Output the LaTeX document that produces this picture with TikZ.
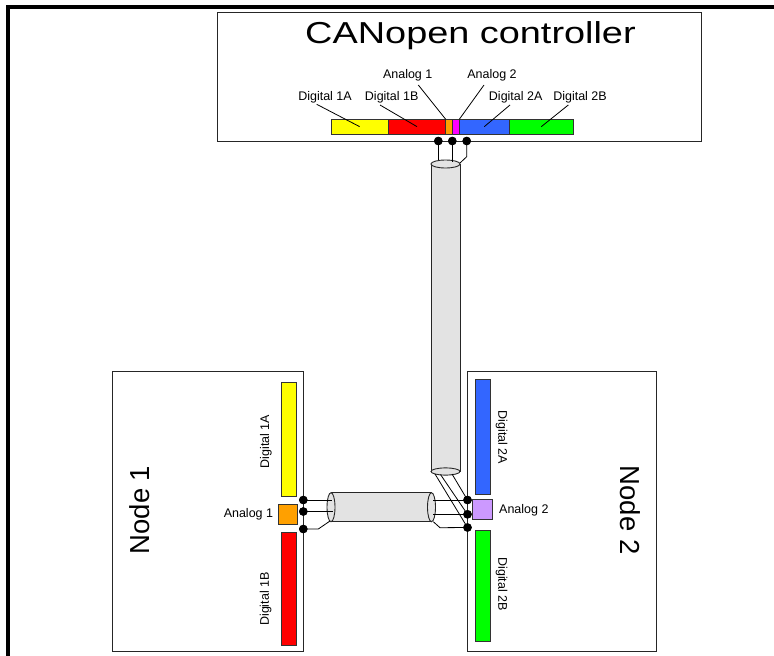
\documentclass[tikz,border=0pt]{standalone}
\usepackage{fontspec}
\setmainfont{Liberation Sans}
\usetikzlibrary{calc}
\definecolor{cablegray}{HTML}{E3E3E3}
\definecolor{cyel}{HTML}{FFFF00}
\definecolor{cred}{HTML}{FF0000}
\definecolor{corg}{HTML}{FFA000}
\definecolor{cmag}{HTML}{FF00FF}
\definecolor{cblue}{HTML}{3366FF}
\definecolor{cgrn}{HTML}{00FF00}
\definecolor{clav}{HTML}{CC99FF}
\begin{document}
\begin{tikzpicture}[x=1pt,y=-1pt,
  box/.style={draw=black!85, line width=0.9pt, inner sep=0pt, outer sep=0pt, anchor=north west},
  bar/.style={draw=black!80, line width=0.8pt, inner sep=0pt, outer sep=0pt, anchor=north west},
  dot/.style={circle, fill=black, inner sep=0pt, minimum size=8.5pt},
  lbl/.style={font=\fontsize{12.5}{14}\selectfont, inner sep=0pt},
  big/.style={font=\fontsize{27.5}{32}\selectfont, inner sep=0pt},
  wire/.style={line width=0.8pt, black},
  cab/.style={line width=0.9pt, draw=black!85, fill=cablegray}
]
\useasboundingbox (0,0) rectangle (774,656);
% outer frame
\draw[line width=4pt, line join=miter] (8,660) -- (8,7) -- (778,7);

% boxes
\node[box, minimum width=484pt, minimum height=129pt] (ctrl) at (217,12) {};
\node[box, minimum width=191.3pt, minimum height=280pt] (node1) at (112,371) {};
\node[box, minimum width=189pt, minimum height=280pt] (node2) at (467.5,371) {};

% title texts
\node[inner sep=0pt, font=\fontsize{30.3}{34}\selectfont] (title) at (470.5,36) {\scalebox{1.25}[1]{CANopen controller}};
\node[big, rotate=90] (n1txt) at (140,510) {Node 1};
\node[big, rotate=-90] (n2txt) at (630,510) {Node 2};

% controller connector bar
\node[bar, fill=cyel, minimum width=57.3pt, minimum height=14.7pt] (c1a) at (331,119.3) {};
\node[bar, fill=cred, minimum width=57.4pt, minimum height=14.7pt] (c1b) at (388.3,119.3) {};
\node[bar, fill=corg, minimum width=6.6pt, minimum height=14.7pt] (ca1) at (445.7,119.3) {};
\node[bar, fill=cmag, minimum width=7pt, minimum height=14.7pt] (ca2) at (452.3,119.3) {};
\node[bar, fill=cblue, minimum width=50pt, minimum height=14.7pt] (c2a) at (459.3,119.3) {};
\node[bar, fill=cgrn, minimum width=64pt, minimum height=14.7pt] (c2b) at (509.3,119.3) {};

% controller labels
\node[lbl] (l1a) at (325,97.7) {Digital 1A};
\node[lbl] (l1b) at (391.7,97.7) {Digital 1B};
\node[lbl] (la1) at (407.7,75) {Analog 1};
\node[lbl] (la2) at (492,75) {Analog 2};
\node[lbl] (l2a) at (515.7,97.7) {Digital 2A};
\node[lbl] (l2b) at (580,97.7) {Digital 2B};
\draw[wire] ($(l1a.center)+(-8.3,6.6)$) -- (c1a.center);
\draw[wire] ($(l1b.center)+(-11.7,7.3)$) -- (c1b.center);
\draw[wire] ($(la1.center)+(10.6,10)$) -- (ca1.north west);
\draw[wire] ($(la2.center)+(-8,10)$) -- (ca2.north east);
\draw[wire] ($(l2a.center)+(-5.7,7.3)$) -- (c2a.center);
\draw[wire] ($(l2b.center)+(-11.7,7.3)$) -- (c2b.center);

% node 1 connectors
\node[bar, fill=cyel, minimum width=15pt, minimum height=114.4pt] (n1a) at (281.7,382.3) {};
\node[bar, fill=corg, minimum width=19pt, minimum height=20pt] (n1an) at (278.3,504.3) {};
\node[bar, fill=cred, minimum width=15pt, minimum height=112.5pt] (n1b) at (281.7,532.7) {};
\node[lbl, rotate=90] (n1al) at (266,441.7) {Digital 1A};
\node[lbl, rotate=90] (n1bl) at (265.7,599) {Digital 1B};
\node[lbl, anchor=east] (n1anl) at (273.3,514) {Analog 1};

% node 2 connectors
\node[bar, fill=cblue, minimum width=15pt, minimum height=115pt] (n2a) at (475,379.3) {};
\node[bar, fill=clav, minimum width=19.6pt, minimum height=20pt] (n2an) at (472.7,499.3) {};
\node[bar, fill=cgrn, minimum width=15pt, minimum height=111.7pt] (n2b) at (475,530) {};
\node[lbl, rotate=-90] (n2al) at (501.7,437.3) {Digital 2A};
\node[lbl, rotate=-90] (n2bl) at (501.7,584) {Digital 2B};
\node[lbl, anchor=west] (n2anl) at (499,510) {Analog 2};

% vertical cable
\fill[cablegray] (431,164) rectangle (460,471.5);
\draw[line width=0.9pt, black!85] (431,164) -- (431,471.5) (460,164) -- (460,471.5);
\draw[cab] (445.5,471.5) ellipse [x radius=14.5, y radius=3.6];
\draw[cab] (445.5,164) ellipse [x radius=14.5, y radius=4];

% horizontal cable
\fill[cablegray] (331,492.7) rectangle (431.5,521.7);
\draw[line width=0.9pt, black!85] (331,492.7) -- (431.5,492.7) (331,521.7) -- (431.5,521.7);
\draw[cab] (431.5,507.2) ellipse [x radius=4, y radius=14.5];
\draw[cab] (331,507.2) ellipse [x radius=4, y radius=14.5];

% cable wire ends
\coordinate (vt1) at (438.3,160);
\coordinate (vt2) at (452.3,161.7);
\coordinate (vt3b) at (466.7,156.7);
\coordinate (vt3) at (460,163);
\coordinate (vb1) at (452,474);
\coordinate (vb2) at (440.5,474.5);
\coordinate (vb3) at (435,474);
\coordinate (hl1) at (331.7,500);
\coordinate (hl2) at (332.7,511.5);
\coordinate (hl3) at (330,521);
\coordinate (hr1) at (433,500);
\coordinate (hr2) at (433,514.3);
\coordinate (hr3) at (433.3,521.7);

% dots
\node[dot] (td1) at (438.3,141) {};
\node[dot] (td2) at (452.3,141) {};
\node[dot] (td3) at (466.7,141) {};
\node[dot] (ad1) at (303.3,500) {};
\node[dot] (ad2) at (303.3,511.5) {};
\node[dot] (ad3) at (303.3,529) {};
\node[dot] (bd1) at (467.5,500) {};
\node[dot] (bd2) at (467.5,514.3) {};
\node[dot] (bd3) at (467.5,527.5) {};

% wires
\draw[wire] (td1.center) -- (vt1);
\draw[wire] (td2.center) -- (vt2);
\draw[wire] (td3.center) -- (vt3b) -- (vt3);
\draw[wire] (ad1.center) -- (hl1);
\draw[wire] (ad2.center) -- (hl2);
\draw[wire] (ad3.center) -- ($(ad3.center)+(15,0)$) -- (hl3);
\draw[wire] (hr1) -- (bd1.center);
\draw[wire] (hr2) -- (bd2.center);
\draw[wire] (hr3) -- ($(hr3)+(6.7,6)$) -- (bd3.center);
\draw[wire] (vb1) -- (bd1.center);
\draw[wire] (vb2) -- (bd2.center);
\draw[wire] (vb3) -- (bd3.center);
% redraw dots on top
\foreach \d in {td1,td2,td3,ad1,ad2,ad3,bd1,bd2,bd3} \fill (\d.center) circle (4.25);
\end{tikzpicture}
\end{document}
